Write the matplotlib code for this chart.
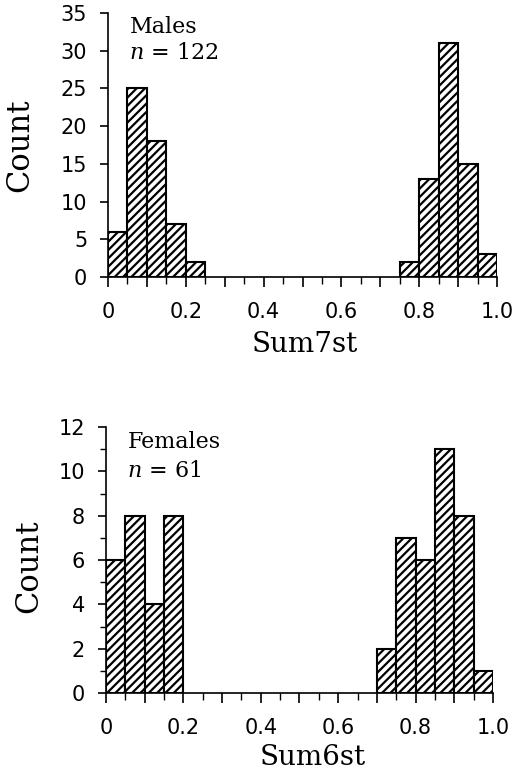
import numpy as np
import matplotlib
matplotlib.use("Agg")
import matplotlib.pyplot as plt
from matplotlib.ticker import MultipleLocator, FuncFormatter

# histogram counts, bins of width 0.05 from 0 to 1
bin_edges = [round(0.05 * i, 2) for i in range(20)]
male_counts = [6, 25, 18, 7, 2, 0, 0, 0, 0, 0, 0, 0, 0, 0, 0, 2, 13, 31, 15, 3]
female_counts = [6, 8, 4, 8, 0, 0, 0, 0, 0, 0, 0, 0, 0, 0, 2, 7, 6, 11, 8, 1]

plt.rcParams['hatch.linewidth'] = 1.6
plt.rcParams['mathtext.fontset'] = 'dejavuserif'

SERIF = 'DejaVu Serif'
SANS = 'DejaVu Sans'


def xfmt(v, pos):
    # labels only on every second major tick
    k = int(round(v * 10))
    if k % 2:
        return ""
    if k == 0:
        return "0"
    return "%.1f" % v


def draw_panel(ax, counts, ymax, ymajor, yminor, xlabel, group, n, lab_pos):
    edges = [e for e, c in zip(bin_edges, counts) if c > 0]
    heights = [c for c in counts if c > 0]
    ax.bar(edges, heights, width=0.05, align='edge', color='white',
           edgecolor='black', linewidth=1.5, hatch='////')
    ax.set_xlim(0, 1.0)
    ax.set_ylim(0, ymax)
    ax.spines['top'].set_visible(False)
    ax.spines['right'].set_visible(False)
    ax.spines['left'].set_linewidth(1.2)
    ax.spines['bottom'].set_linewidth(1.2)
    ax.xaxis.set_major_locator(MultipleLocator(0.1))
    ax.xaxis.set_minor_locator(MultipleLocator(0.05))
    ax.xaxis.set_major_formatter(FuncFormatter(xfmt))
    ax.yaxis.set_major_locator(MultipleLocator(ymajor))
    if yminor:
        ax.yaxis.set_minor_locator(MultipleLocator(yminor))
    else:
        ax.yaxis.set_minor_locator(plt.NullLocator())
    ax.tick_params(axis='x', which='major', length=7, width=1.2, pad=11,
                   direction='out')
    ax.tick_params(axis='x', which='minor', length=5, width=1.0,
                   direction='out')
    ax.tick_params(axis='y', which='major', length=6, width=1.2, pad=9,
                   direction='out')
    ax.tick_params(axis='y', which='minor', length=4, width=1.0,
                   direction='out')
    for lab in ax.get_xticklabels() + ax.get_yticklabels():
        lab.set_fontfamily(SANS)
        lab.set_fontsize(15)
    ax.set_xlabel(xlabel, family=SERIF, fontsize=20)
    ax.set_ylabel("Count", family=SERIF, fontsize=22)
    ax.xaxis.set_label_coords(lab_pos[0], lab_pos[1])
    ax.yaxis.set_label_coords(lab_pos[2], lab_pos[3])
    ax.text(0.055, lab_pos[4], group, transform=ax.transAxes, family=SERIF,
            fontsize=16, va='top', ha='left')
    ax.text(0.055, lab_pos[5], r"$n$ = %d" % n, transform=ax.transAxes,
            family=SERIF, fontsize=16, va='top', ha='left')


fig = plt.figure(figsize=(5.31, 7.8), dpi=100)
ax1 = fig.add_axes([0.2034, 0.6449, 0.7326, 0.3385])
ax2 = fig.add_axes([0.1996, 0.1115, 0.7288, 0.3410])

draw_panel(ax1, male_counts, 35, 5, None, "Sum7st", "Males", 122,
           (0.505, -0.205, -0.188, 0.5, 0.99, 0.89))
draw_panel(ax2, female_counts, 12, 2, 1, "Sum6st", "Females", 61,
           (0.535, -0.19, -0.16, 0.475, 0.985, 0.875))

fig.savefig("out.png", dpi=100)
